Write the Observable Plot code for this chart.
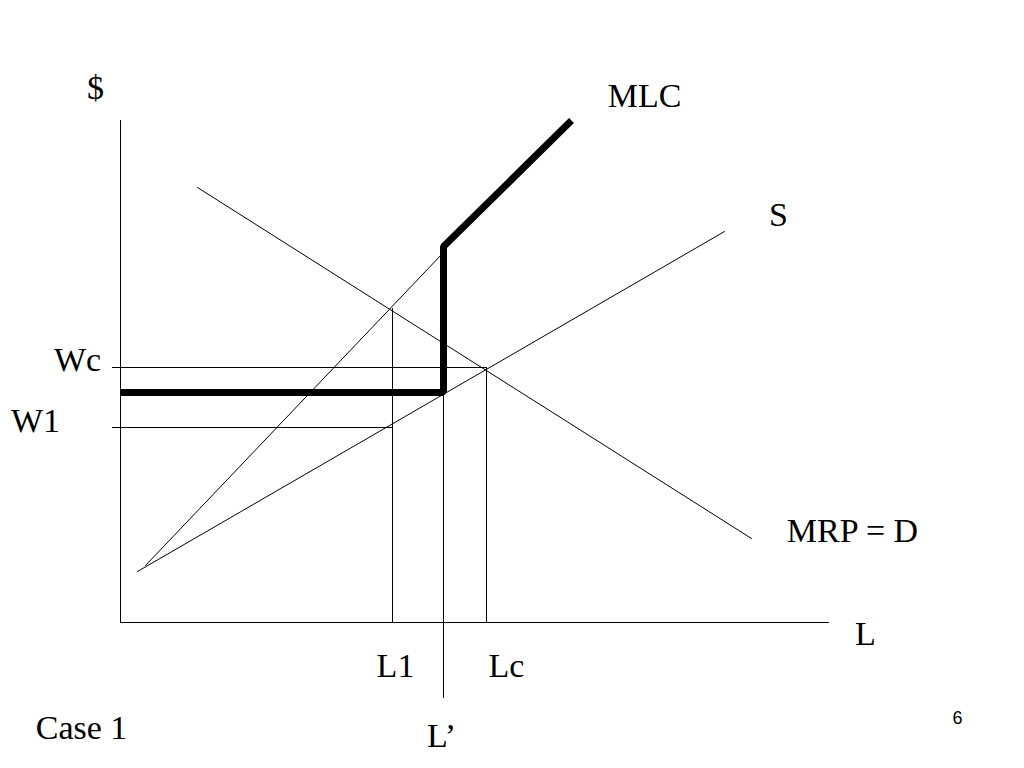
<!DOCTYPE html>
<html>
<head>
<meta charset="utf-8">
<script src="https://cdn.jsdelivr.net/npm/d3@7"></script>
<script src="https://cdn.jsdelivr.net/npm/@observablehq/plot@0.6"></script>
<style>
  html, body { margin: 0; padding: 0; background: #fff; }
  #chart svg { display: block; }
</style>
</head>
<body>
<div id="chart"></div>
<script>
// Coordinates in diagram units: L (labour) horizontal, $ (wage) vertical, origin at axes corner
const axisX = [{x: 0, y: 0}, {x: 708, y: 0}];
const axisY = [{x: 0, y: 0}, {x: 0, y: 502}];

const demandMRP = [{x: 77, y: 435}, {x: 631, y: 84}];
const supplyS = [{x: 17, y: 51}, {x: 604, y: 391}];
const mlcThin = [{x: 25, y: 57}, {x: 323, y: 370}];
const mlcThick = [{x: 0, y: 230}, {x: 323, y: 230}, {x: 323, y: 376}, {x: 451, y: 502}];

const wageWc = 255, wageW1 = 195;
const qtyL1 = 272, qtyLprime = 323, qtyLc = 366;

const guidesH = [
  {x1: -8, x2: qtyLc, y: wageWc},
  {x1: -8, x2: qtyL1, y: wageW1}
];
const guidesV = [
  {x: qtyL1, y1: 0, y2: 314},
  {x: qtyLprime, y1: -76, y2: 230},
  {x: qtyLc, y1: 0, y2: wageWc}
];

const labelText = ["$", "MLC", "S", "Wc", "W1", "MRP = D", "L", "L1", "Lc", "L\u2019", "Case 1"];
const labelX =    [-25, 524, 658, -43, -85, 732, 745, 275, 386, 321, -39];
const labelY =    [534, 526, 407, 262, 201, 91, -12, -44, -44, -114, -106];
const labels = labelText.map((t, i) => ({t, x: labelX[i], y: labelY[i]}));
const pageNumber = [{t: "6", x: 837, y: -96}];

const chart = Plot.plot({
  width: 1024,
  height: 768,
  margin: 0,
  x: {domain: [-120, 904], axis: null},
  y: {domain: [-146, 622], axis: null},
  marks: [
    Plot.line(axisX, {x: "x", y: "y", stroke: "#000", strokeWidth: 1}),
    Plot.line(axisY, {x: "x", y: "y", stroke: "#000", strokeWidth: 1}),
    Plot.ruleY(guidesH, {y: "y", x1: "x1", x2: "x2", stroke: "#000", strokeWidth: 1}),
    Plot.ruleX(guidesV, {x: "x", y1: "y1", y2: "y2", stroke: "#000", strokeWidth: 1}),
    Plot.line(demandMRP, {x: "x", y: "y", stroke: "#000", strokeWidth: 1}),
    Plot.line(supplyS, {x: "x", y: "y", stroke: "#000", strokeWidth: 1}),
    Plot.line(mlcThin, {x: "x", y: "y", stroke: "#000", strokeWidth: 1}),
    Plot.line(mlcThick, {x: "x", y: "y", stroke: "#000", strokeWidth: 7, strokeLinejoin: "miter", strokeLinecap: "butt"}),
    Plot.text(labels, {x: "x", y: "y", text: "t", fontFamily: "Liberation Serif, Times New Roman, serif", fontSize: 34, fill: "#000"}),
    Plot.text(pageNumber, {x: "x", y: "y", text: "t", fontFamily: "Liberation Sans, Arial, sans-serif", fontSize: 18, fill: "#000"})
  ]
});
document.getElementById("chart").appendChild(chart);
</script>
</body>
</html>
